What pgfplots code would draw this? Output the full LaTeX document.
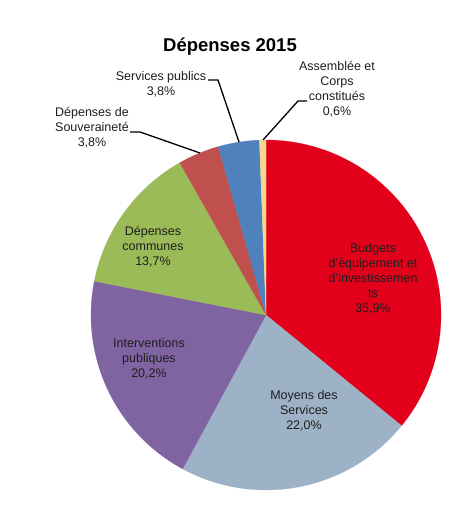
\documentclass[border=0pt]{standalone}
\usepackage{pgfplots}
\pgfplotsset{compat=1.18}
\usepackage{fontspec}
\setmainfont{Liberation Sans}
\definecolor{cRed}{HTML}{E3001B}
\definecolor{cGray}{HTML}{9DB2C6}
\definecolor{cPurple}{HTML}{8064A2}
\definecolor{cGreen}{HTML}{9BBB59}
\definecolor{cBrown}{HTML}{C0504D}
\definecolor{cBlue}{HTML}{4F81BD}
\definecolor{cYellow}{HTML}{F4D88C}
\definecolor{cText}{HTML}{1E1E1E}
% shares in percent, cumulative from the top, clockwise
% Budgets 35.9, Moyens 22.0, Interventions 20.2, Communes 13.7,
% Souverainete 3.8, Services publics 3.8, Assemblee 0.6
\newcommand{\slice}[3]{%
  \addplot[fill=#3, draw=#3, line width=0.2pt, domain={#1*3.6}:{#2*3.6}, samples=90, variable=\t]
    ({266+175*sin(\t)}, {315-175*cos(\t)}) -- (axis cs:266,315) -- cycle;
}
\tikzset{lbl/.style={font=\fontsize{12.5bp}{15bp}\selectfont, text=cText, align=center, inner sep=0pt}}
\begin{document}
\begin{tikzpicture}
\begin{axis}[
  width=474bp, height=505bp, scale only axis,
  xmin=0, xmax=474, ymin=0, ymax=505, y dir=reverse,
  hide axis, clip=false,
]
\path (axis cs:0,0) rectangle (axis cs:474,505);
\slice{0}{35.9}{cRed}
\slice{35.9}{57.9}{cGray}
\slice{57.9}{78.1}{cPurple}
\slice{78.1}{91.8}{cGreen}
\slice{91.8}{95.6}{cBrown}
\slice{95.6}{99.4}{cBlue}
\slice{99.4}{100}{cYellow}
% leader lines
\addplot[black, line width=1.3bp] coordinates {(307,101) (298,101) (263,140)};
\addplot[black, line width=1.3bp] coordinates {(208,80) (218,80) (239,142)};
\addplot[black, line width=1.3bp] coordinates {(130,132) (140,132) (200,153)};
% title
\node[font=\fontsize{18.5bp}{22bp}\selectfont\bfseries, text=black, inner sep=0pt] at (axis cs:230,47) {Dépenses 2015};
% labels
\node[lbl] at (axis cs:161,84) {Services publics\\3,8\%};
\node[lbl] at (axis cs:337,89.5) {Assemblée et\\Corps\\constitués\\0,6\%};
\node[lbl] at (axis cs:92,128) {Dépenses de\\Souveraineté\\3,8\%};
\node[lbl] at (axis cs:153,247) {Dépenses\\communes\\13,7\%};
\node[lbl] at (axis cs:149,358.5) {Interventions\\publiques\\20,2\%};
\node[lbl] at (axis cs:304,411) {Moyens des\\Services\\22,0\%};
\node[lbl] at (axis cs:373,278.6) {Budgets\\d’équipement et\\d’investissemen\\ts\\35,9\%};
\end{axis}
\end{tikzpicture}
\end{document}
